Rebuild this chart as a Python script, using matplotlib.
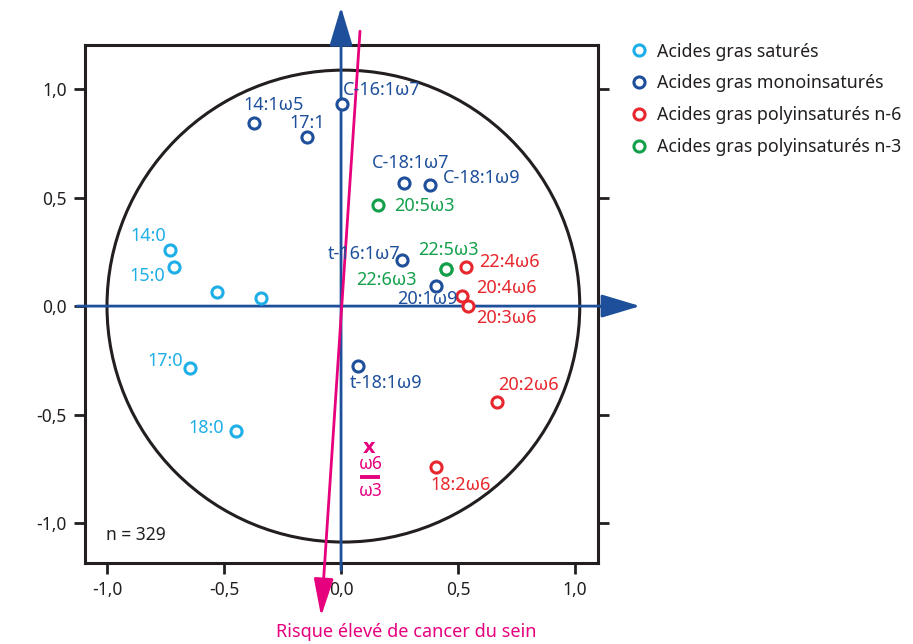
import numpy as np
import matplotlib.pyplot as plt
from matplotlib.patches import Ellipse
from matplotlib.lines import Line2D
from matplotlib.ticker import FuncFormatter
from matplotlib.transforms import offset_copy

plt.rcParams['font.family'] = ['Noto Sans', 'DejaVu Sans']

# acides gras satures
sat_names = ['14:0', '15:0', '', '', '17:0', '18:0']
sat_x = [-0.731, -0.714, -0.530, -0.342, -0.645, -0.449]
sat_y = [0.258, 0.180, 0.065, 0.037, -0.286, -0.576]

# monoinsatures
mono_names = ['C-16:1ω7', '14:1ω5', '17:1', 'C-18:1ω7', 'C-18:1ω9',
              't-16:1ω7', '20:1ω9', 't-18:1ω9']
mono_x = [0.004, -0.372, -0.145, 0.269, 0.381, 0.260, 0.406, 0.073]
mono_y = [0.931, 0.843, 0.779, 0.567, 0.558, 0.212, 0.092, -0.276]

# polyinsatures n-6
n6_names = ['22:4ω6', '20:4ω6', '20:3ω6', '20:2ω6', '18:2ω6']
n6_x = [0.534, 0.517, 0.543, 0.667, 0.406]
n6_y = [0.180, 0.046, 0.000, -0.442, -0.742]

# polyinsatures n-3
n3_names = ['20:5ω3', '22:5ω3', '22:6ω3']
n3_x = [0.158, 0.449, 0.449]
n3_y = [0.465, 0.170, 0.170]

# rapport w6/w3
ratio_x = 0.120
ratio_y = -0.650

n_obs = 329

c_sat = '#1eaee8'
c_mono = '#1d4f9b'
c_n6 = '#e8262d'
c_n3 = '#14a04b'
c_pink = '#e6007e'
c_txt = '#231f20'

# label offsets in pixels (dx, dy, ha)
offsets = {
    '14:0': (-22, 14, 'center'), '15:0': (-27, -9, 'center'),
    '17:0': (-25, 7, 'center'), '18:0': (-30, 3, 'center'),
    'C-16:1ω7': (40, 14, 'center'), '14:1ω5': (20, 18, 'center'),
    '17:1': (0, 14, 'center'), 'C-18:1ω7': (7, 20, 'center'),
    'C-18:1ω9': (13, 7, 'left'), 't-16:1ω7': (-38, 6, 'center'),
    '20:1ω9': (-9, -13, 'center'), 't-18:1ω9': (28, -17, 'center'),
    '22:4ω6': (13, 5, 'left'), '20:4ω6': (14, 8, 'left'),
    '20:3ω6': (8, -12, 'left'), '20:2ω6': (31, 17, 'center'),
    '18:2ω6': (25, -18, 'center'),
    '20:5ω3': (16, -1, 'left'), '22:5ω3': (2, 19, 'center'),
    '22:6ω3': (-60, -11, 'center'),
}

fig = plt.figure(figsize=(9.13, 6.44), dpi=100)
ax = fig.add_axes([0.0931, 0.1258, 0.5619, 0.8042])
ax.set_xlim(-1.094, 1.098)
ax.set_ylim(-1.184, 1.203)

for sp in ax.spines.values():
    sp.set_linewidth(2.2)
    sp.set_color(c_txt)

fmt = FuncFormatter(lambda v, p: f"{v:.1f}".replace('.', ','))
ax.set_xticks([-1, -0.5, 0, 0.5, 1])
ax.set_yticks([-1, -0.5, 0, 0.5, 1])
ax.xaxis.set_major_formatter(fmt)
ax.yaxis.set_major_formatter(fmt)
ax.tick_params(direction='out', length=8, width=2, color=c_txt,
               labelsize=12.5, labelcolor=c_txt, pad=5)
ax.tick_params(axis='y', right=True)

# cercle des correlations
ax.add_patch(Ellipse((0.01, 0), 2.02, 2.175, fill=False, lw=2.2, ec=c_txt))

# axes bleus avec fleches
blue_arrow = dict(arrowstyle='-|>,head_length=1.2,head_width=0.36', color=c_mono,
                  lw=2, shrinkA=0, shrinkB=0, mutation_scale=20)
ax.annotate('', xy=(1.278, 0), xytext=(-1.128, 0), arrowprops=blue_arrow,
            annotation_clip=False)
ax.annotate('', xy=(0, 1.378), xytext=(0, -1.217), arrowprops=blue_arrow,
            annotation_clip=False)

# axe rose du risque
pink_arrow = dict(arrowstyle='-|>,head_length=1.15,head_width=0.3', color=c_pink,
                  lw=2, shrinkA=0, shrinkB=0, mutation_scale=20)
ax.annotate('', xy=(-0.085, -1.43), xytext=(0.081, 1.267), arrowprops=pink_arrow,
            annotation_clip=False)

groups = [
    (sat_names, sat_x, sat_y, c_sat),
    (mono_names, mono_x, mono_y, c_mono),
    (n6_names, n6_x, n6_y, c_n6),
    (n3_names, n3_x, n3_y, c_n3),
]
for names, xs, ys, col in groups:
    ax.plot(xs, ys, 'o', ms=8, mfc='white', mec=col, mew=2.2, ls='none', zorder=5)
    for nm, x, y in zip(names, xs, ys):
        if not nm:
            continue
        dx, dy, ha = offsets[nm]
        ax.annotate(nm, (x, y), xytext=(dx, dy), textcoords='offset pixels',
                    ha=ha, va='center', color=col, fontsize=13, zorder=6)

# rapport w6/w3
ax.annotate('x', (ratio_x, ratio_y), ha='center', va='center', color=c_pink,
            fontsize=14, fontweight='bold', family='DejaVu Sans')
ax.annotate('ω6', (ratio_x, ratio_y), xytext=(2, -17), textcoords='offset pixels',
            ha='center', va='center', color=c_pink, fontsize=12.5)
ax.plot(ratio_x, ratio_y, marker='_', ms=15, mew=2.8, color=c_pink,
        transform=offset_copy(ax.transData, fig=fig, x=1, y=-30, units='dots'))
ax.annotate('ω3', (ratio_x, ratio_y), xytext=(2, -44), textcoords='offset pixels',
            ha='center', va='center', color=c_pink, fontsize=12.5)

ax.text(0.041, 0.054, f'n = {n_obs}', transform=ax.transAxes, ha='left',
        va='center', fontsize=12.5, color=c_txt)

fig.text(0.445, 0.019, 'Risque élevé de cancer du sein', ha='center', va='center',
         color=c_pink, fontsize=13,
         family=['Liberation Sans Narrow', 'Noto Sans', 'DejaVu Sans'])

handles = [Line2D([], [], marker='o', ls='none', ms=8, mfc='white', mec=c, mew=2.2)
           for c in [c_sat, c_mono, c_n6, c_n3]]
labels = ['Acides gras saturés', 'Acides gras monoinsaturés',
          'Acides gras polyinsaturés n-6', 'Acides gras polyinsaturés n-3']
leg = fig.legend(handles, labels, loc='upper left', bbox_to_anchor=(0.690, 0.934),
                 frameon=False, fontsize=12.8, handlelength=1.0, handletextpad=0.5,
                 labelspacing=0.78, borderpad=0, borderaxespad=0)
for t in leg.get_texts():
    t.set_color(c_txt)

fig.savefig('out.png', dpi=100)
